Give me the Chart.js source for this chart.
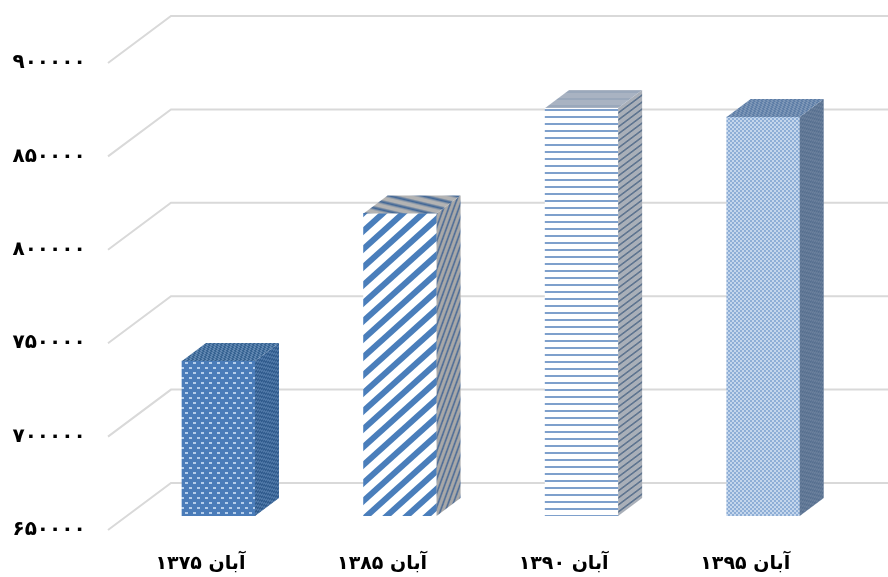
<!DOCTYPE html>
<html>
<head>
<meta charset="utf-8">
<style>
  html, body { margin: 0; padding: 0; background: #fff; }
  canvas { display: block; }
</style>
<script src="https://cdn.jsdelivr.net/npm/chart.js@4/dist/chart.umd.min.js"></script>
</head>
<body>
<canvas id="census" width="888" height="577" dir="rtl"></canvas>
<script>
const categories = ['آبان ۱۳۷۵', 'آبان ۱۳۸۵', 'آبان ۱۳۹۰', 'آبان ۱۳۹۵'];
const values = [733000, 812000, 868400, 863600];
const tickValues = [650000, 700000, 750000, 800000, 850000, 900000];
const tickLabels = ['۶۵۰۰۰۰', '۷۰۰۰۰۰', '۷۵۰۰۰۰', '۸۰۰۰۰۰', '۸۵۰۰۰۰', '۹۰۰۰۰۰'];

// depth of the fake 3d box and of the floor
const BAR_DX = 24, BAR_DY = 18;
const GRID_LEFT = 108, GRID_BACK = 171;
const FRONT_OFFSET = 14, BACK_OFFSET = -33;
const PLOT_TOP = 49;

const ctx = document.getElementById('census').getContext('2d');

function tile(w, h, paint) {
    const c = document.createElement('canvas');
    c.width = w;
    c.height = h;
    paint(c.getContext('2d'));
    return ctx.createPattern(c, 'repeat');
}

function dots(bg, fg) {
    return tile(8, 10, (g) => {
        g.fillStyle = bg;
        g.fillRect(0, 0, 8, 10);
        g.fillStyle = fg;
        g.fillRect(1, 2, 3, 2);
        g.fillRect(5, 7, 3, 2);
    });
}

// rising stripes, one per tile; falling=true mirrors them
function stripes(bg, fg, w, h, width, falling) {
    return tile(w, h, (g) => {
        g.fillStyle = bg;
        g.fillRect(0, 0, w, h);
        if (falling) {
            g.translate(0, h);
            g.scale(1, -1);
        }
        g.strokeStyle = fg;
        g.lineWidth = width;
        [-w, 0, w].forEach((o) => {
            g.beginPath();
            g.moveTo(o - w, 2 * h);
            g.lineTo(o + 2 * w, -h);
            g.stroke();
        });
    });
}

function hlines(bg, fg) {
    return tile(4, 7, (g) => {
        g.fillStyle = bg;
        g.fillRect(0, 0, 4, 7);
        g.fillStyle = fg;
        g.fillRect(0, 4, 4, 2);
    });
}

function checker(a, b) {
    return tile(4, 4, (g) => {
        g.fillStyle = a;
        g.fillRect(0, 0, 4, 4);
        g.fillStyle = b;
        g.fillRect(0, 0, 2, 2);
        g.fillRect(2, 2, 2, 2);
    });
}

const frontFills = [
    dots('#4a7cb9', '#b4cdea'),
    stripes('#ffffff', '#4a7ebb', 20, 18, 6),
    hlines('#ffffff', '#7ea0cc'),
    checker('#8eaed6', '#c4d6ec')
];
const sideFills = [
    checker('#2f5a8c', '#5079a8'),
    stripes('#a8a8a8', '#4a6a96', 7, 14, 2),
    hlines('#a9afb8', '#5f7590'),
    checker('#566f8f', '#6c819d')
];
const topFills = [
    checker('#33608f', '#6389b3'),
    stripes('#b3b3b3', '#3f6595', 33, 6, 2, true),
    hlines('#a9b3c2', '#9aa8bb'),
    checker('#5d7da6', '#7f98b8')
];

// the layout leaves the plot a little short, stretch the y axis up to its real top
const plotTop = {
    id: 'plotTop',
    afterLayout(chart) {
        const y = chart.scales.y, area = chart.chartArea;
        y.top = PLOT_TOP;
        y.height = y.bottom - PLOT_TOP;
        y.configure();
        area.top = PLOT_TOP;
        area.height = area.bottom - PLOT_TOP;
    }
};

// gridlines run along the floor and up the back wall
const wallGrid = {
    id: 'wallGrid',
    beforeDatasetsDraw(chart) {
        const c = chart.ctx, y = chart.scales.y;
        c.save();
        c.strokeStyle = '#d9d9d9';
        c.lineWidth = 2;
        tickValues.forEach((v) => {
            const py = y.getPixelForValue(v);
            c.beginPath();
            c.moveTo(GRID_LEFT, py + FRONT_OFFSET);
            c.lineTo(GRID_BACK, py + BACK_OFFSET);
            c.lineTo(chart.width, py + BACK_OFFSET);
            c.stroke();
        });
        c.restore();
    }
};

// side and top faces taken from the real bar elements
const boxFaces = {
    id: 'boxFaces',
    afterDatasetsDraw(chart) {
        const c = chart.ctx, floor = chart.scales.y.bottom;
        chart.getDatasetMeta(0).data.forEach((bar, i) => {
            const w = bar.width, h = floor - bar.y;
            const left = bar.x - w / 2, right = bar.x + w / 2;
            c.save();
            c.translate(right, bar.y);
            c.transform(1, -BAR_DY / BAR_DX, 0, 1, 0, 0);
            c.fillStyle = sideFills[i];
            c.fillRect(0, 0, BAR_DX, h);
            c.restore();
            c.save();
            c.translate(left, bar.y);
            c.transform(1, 0, -BAR_DX / BAR_DY, 1, 0, 0);
            c.fillStyle = topFills[i];
            c.fillRect(0, -BAR_DY, w, BAR_DY);
            c.restore();
        });
    }
};

new Chart(ctx, {
    type: 'bar',
    data: {
        labels: categories,
        datasets: [{
            data: values,
            backgroundColor: frontFills,
            barThickness: 73,
            borderWidth: 0
        }]
    },
    options: {
        responsive: false,
        animation: false,
        layout: { padding: { left: 0, right: 34, top: PLOT_TOP, bottom: 0 }, autoPadding: false },
        plugins: { legend: { display: false }, tooltip: { enabled: false } },
        scales: {
            x: {
                grid: { display: false, drawTicks: false },
                border: { display: false },
                afterFit(scale) { scale.height = 61; },
                ticks: {
                    color: '#000',
                    padding: 37,
                    labelOffset: -18,
                    maxRotation: 0,
                    font: { family: "'DejaVu Sans'", size: 19, weight: 'bold' }
                }
            },
            y: {
                min: 650000,
                max: 900000,
                grid: { display: false, drawTicks: false },
                border: { display: false },
                afterFit(scale) { scale.width = 127.7; },
                afterBuildTicks(scale) { scale.ticks = tickValues.map((v) => ({ value: v })); },
                ticks: {
                    color: '#000',
                    padding: 42,
                    labelOffset: FRONT_OFFSET,
                    callback: (v) => tickLabels[tickValues.indexOf(v)],
                    font: { family: "'DejaVu Sans'", size: 20, weight: 'bold' }
                }
            }
        }
    },
    plugins: [plotTop, wallGrid, boxFaces]
});
</script>
</body>
</html>
